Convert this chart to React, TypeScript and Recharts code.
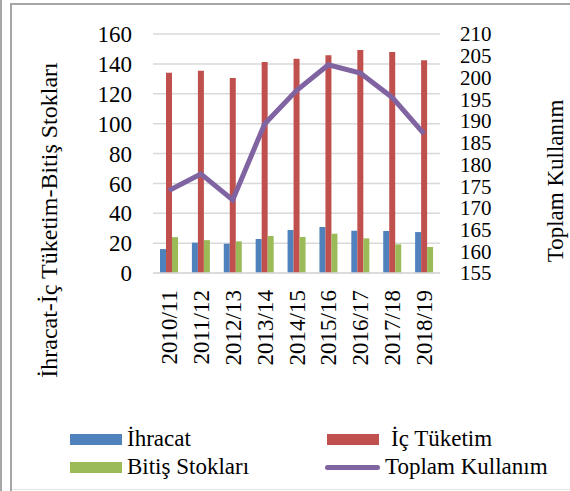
import React from 'react'
import {ComposedChart, Bar, Line, XAxis, YAxis, CartesianGrid} from 'recharts'

const categories = ['2010/11', '2011/12', '2012/13', '2013/14', '2014/15', '2015/16', '2016/17', '2017/18', '2018/19']
const ihracat = [16, 20.3, 19.6, 22.8, 28.8, 30.8, 28.3, 28.1, 27.4]
const icTuketim = [134, 135.4, 130.5, 141.2, 143.5, 145.7, 149.3, 147.9, 142.4]
const bitisStoklari = [24, 22, 21.2, 24.8, 24.1, 26.3, 23.2, 19.2, 17.4]
const toplamKullanim = [174, 177.8, 171.8, 189.3, 197, 202.9, 201, 195.4, 187]

const leftTicks = [0, 20, 40, 60, 80, 100, 120, 140, 160]
const rightTicks = [155, 160, 165, 170, 175, 180, 185, 190, 195, 200, 205, 210]

const data = categories.map((name, i) => ({
  name,
  ihracat: ihracat[i],
  icTuketim: icTuketim[i],
  bitis: bitisStoklari[i],
  toplam: toplamKullanim[i],
}))

const FONT = "Liberation Serif, Tinos, Times New Roman, DejaVu Serif, serif"
const tickStyle = {fontFamily: FONT, fontSize: 23, fill: '#000'}

const XTick = ({x, y, payload}: any) => (
  <text x={x} y={y} transform={`rotate(-90 ${x} ${y})`} textAnchor="end" dy="0.35em"
    style={{fontFamily: FONT}} fontSize={23} fill="#000">{payload.value}</text>
)

const legendItems = [
  {label: 'İhracat', color: '#4F81BD', line: false, x: 70, y: 439, tx: 127},
  {label: 'İç Tüketim', color: '#C0504D', line: false, x: 327, y: 439, tx: 391},
  {label: 'Bitiş Stokları', color: '#9BBB59', line: false, x: 70, y: 467, tx: 127},
  {label: 'Toplam Kullanım', color: '#8064A2', line: true, x: 325, y: 467, tx: 385},
]

export default function App(){
  return (
    <div style={{position: 'absolute', left: 0, top: 0, width: 570, height: 491, background: '#fff', overflow: 'hidden', fontFamily: FONT}}>
      {/* frame */}
      <div style={{position: 'absolute', left: 0, top: 0, width: 2, height: 491, background: '#A6A6A6'}} />
      <div style={{position: 'absolute', left: 10, top: 3, width: 2, height: 488, background: '#A6A6A6'}} />
      <div style={{position: 'absolute', left: 10, top: 3, width: 560, height: 2, background: '#A6A6A6'}} />
      <div style={{position: 'absolute', left: 12, top: 489, width: 558, height: 1, background: '#E6E6E6'}} />

      <ComposedChart width={570} height={491} data={data} barGap={0} barSize={6}
        margin={{top: 34, right: 0, left: 0, bottom: 0}} style={{position: 'absolute', left: 0, top: 0, fontFamily: FONT}}>
        <CartesianGrid vertical={false} stroke="#D9D9D9" strokeWidth={1.5} yAxisId="left" />
        <XAxis dataKey="name" height={218} tickSize={0} tickMargin={17} interval={0}
          axisLine={{stroke: '#D9D9D9', strokeWidth: 1.5}} tick={<XTick />} />
        <YAxis yAxisId="left" orientation="left" width={153} domain={[0, 160]} ticks={leftTicks}
          interval={0} axisLine={false} tickLine={false} tickSize={0} tickMargin={21} tick={tickStyle} />
        <YAxis yAxisId="right" orientation="right" width={130} domain={[155, 210]} ticks={rightTicks}
          interval={0} axisLine={false} tickLine={false} tickSize={0} tickMargin={20}
          tick={{...tickStyle, fontSize: 21}} />
        <Bar yAxisId="left" dataKey="ihracat" fill="#4F81BD" isAnimationActive={false} />
        <Bar yAxisId="left" dataKey="icTuketim" fill="#C0504D" isAnimationActive={false} />
        <Bar yAxisId="left" dataKey="bitis" fill="#9BBB59" isAnimationActive={false} />
        <Line yAxisId="right" dataKey="toplam" type="linear" stroke="#8064A2" strokeWidth={5}
          dot={false} isAnimationActive={false} />
        <text x={49} y={220} transform="rotate(-90 49 220)" textAnchor="middle" dominantBaseline="central"
          style={{fontFamily: FONT}} fontSize={24} fill="#000">İhracat-İç Tüketim-Bitiş Stokları</text>
        <text x={555} y={181} transform="rotate(-90 555 181)" textAnchor="middle" dominantBaseline="central"
          style={{fontFamily: FONT}} fontSize={23} fill="#000">Toplam Kullanım</text>
      </ComposedChart>

      {/* legend */}
      {legendItems.map(it => (
        <React.Fragment key={it.label}>
          {it.line
            ? <div style={{position: 'absolute', left: it.x, top: it.y - 2.5, width: 55, height: 5, borderRadius: 3, background: it.color}} />
            : <div style={{position: 'absolute', left: it.x, top: it.y - 5.5, width: 52, height: 11, background: it.color}} />}
          <div style={{position: 'absolute', left: it.tx, top: it.y - 14, fontFamily: FONT, fontSize: 23, lineHeight: '28px', color: '#000', whiteSpace: 'nowrap'}}>{it.label}</div>
        </React.Fragment>
      ))}
    </div>
  )
}
